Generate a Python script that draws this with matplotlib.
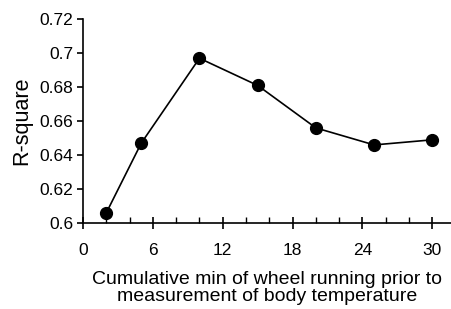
import matplotlib.pyplot as plt
from matplotlib.ticker import MultipleLocator

plt.rcParams['font.family'] = ['Liberation Sans', 'DejaVu Sans']

minutes = [2, 5, 10, 15, 20, 25, 30]
r_square = [0.606, 0.647, 0.697, 0.681, 0.656, 0.646, 0.649]
x_ticks = [0, 6, 12, 18, 24, 30]
y_ticks = [0.6, 0.62, 0.64, 0.66, 0.68, 0.7, 0.72]
y_labels = ['0.6', '0.62', '0.64', '0.66', '0.68', '0.7', '0.72']

fig = plt.figure(figsize=(4.51, 3.09), dpi=100)
ax = fig.add_axes([0.184, 0.278, 0.816, 0.66])

ax.plot(minutes, r_square, color='black', linewidth=1.2, marker='o',
        markersize=8.5, markerfacecolor='black', clip_on=False)

ax.set_xlim(0, 31.6)
ax.set_ylim(0.6, 0.72)
ax.set_xticks(x_ticks)
ax.set_xticklabels([str(t) for t in x_ticks])
ax.xaxis.set_minor_locator(MultipleLocator(2))
ax.set_yticks(y_ticks)
ax.set_yticklabels(y_labels)

ax.spines['top'].set_visible(False)
ax.spines['right'].set_visible(False)
ax.spines['left'].set_linewidth(1.2)
ax.spines['bottom'].set_linewidth(1.2)

ax.tick_params(axis='x', which='major', direction='inout', length=8, width=1.2,
               pad=10, labelsize=12.5)
ax.tick_params(axis='x', which='minor', direction='in', length=4, width=1.0)
ax.tick_params(axis='y', which='major', direction='out', length=4, width=1.2,
               pad=3, labelsize=12.5)

ax.set_ylabel('R-square', fontsize=15.5, labelpad=5)
ax.set_xlabel('Cumulative min of wheel running prior to\nmeasurement of body temperature',
              fontsize=14, labelpad=10, linespacing=1.0)

fig.savefig('out.png', dpi=100)
plt.close(fig)
